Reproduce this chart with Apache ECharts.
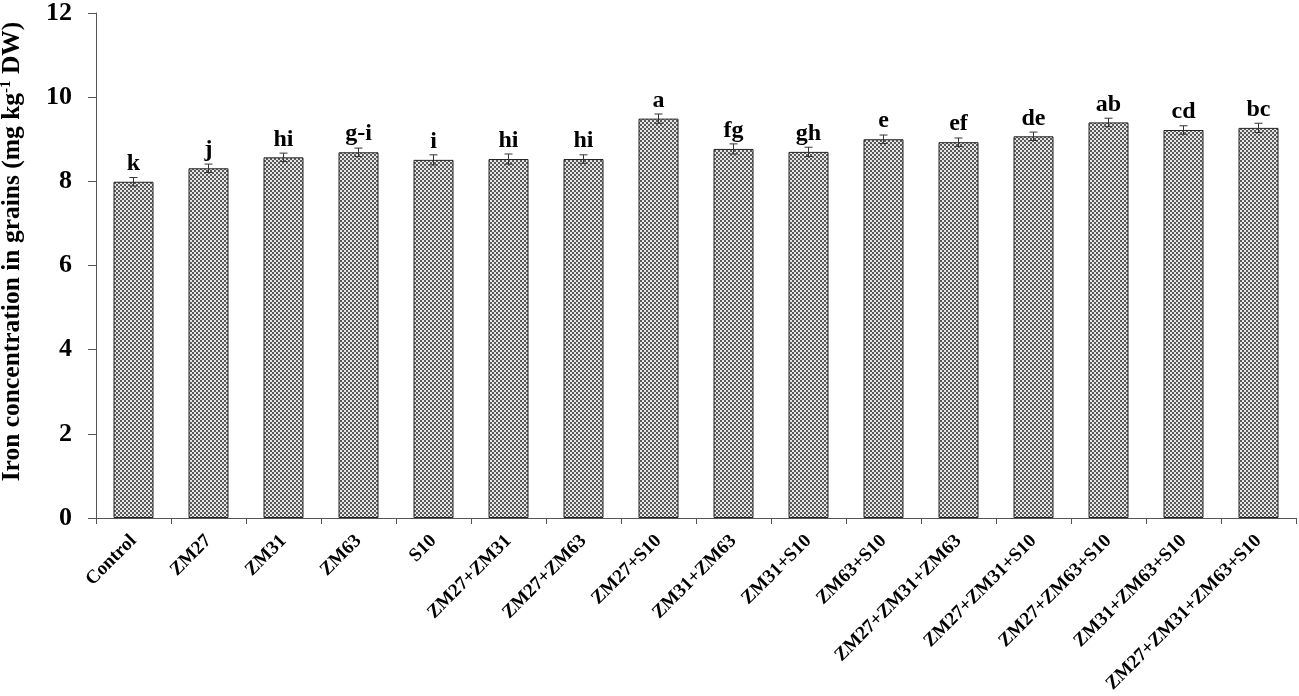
<!DOCTYPE html>
<html>
<head>
<meta charset="utf-8">
<script src="https://cdn.jsdelivr.net/npm/echarts@6/dist/echarts.min.js"></script>
<style>
html,body{margin:0;padding:0;background:#fff;}
#chart{width:1299px;height:696px;}
</style>
</head>
<body>
<div id="chart"></div>
<script>
const categories = ['Control','ZM27','ZM31','ZM63','S10','ZM27+ZM31','ZM27+ZM63','ZM27+S10','ZM31+ZM63','ZM31+S10','ZM63+S10','ZM27+ZM31+ZM63','ZM27+ZM31+S10','ZM27+ZM63+S10','ZM31+ZM63+S10','ZM27+ZM31+ZM63+S10'];
const ironValues = [7.99, 8.31, 8.57, 8.69, 8.51, 8.53, 8.53, 9.49, 8.77, 8.70, 9.00, 8.93, 9.07, 9.40, 9.22, 9.27];
const ironErrors = [0.10, 0.10, 0.10, 0.10, 0.12, 0.12, 0.10, 0.11, 0.12, 0.11, 0.10, 0.10, 0.10, 0.10, 0.10, 0.11];
const letters = ['k','j','hi','g-i','i','hi','hi','a','fg','gh','e','ef','de','ab','cd','bc'];
const yTicks = [0, 2, 4, 6, 8, 10, 12];

const FONT = '"Liberation Serif", "Times New Roman", serif';

// checker pattern
const pc = document.createElement('canvas');
pc.width = 4; pc.height = 4;
const pctx = pc.getContext('2d');
pctx.fillStyle = '#e6e6e6'; pctx.fillRect(0,0,4,4);
pctx.fillStyle = '#5a5a5a';
pctx.fillRect(0,0,2,2); pctx.fillRect(2,2,2,2);

const chart = echarts.init(document.getElementById('chart'), null, {renderer:'canvas'});
chart.setOption({
  animation: false,
  backgroundColor: '#fff',
  grid: {left: 96, right: 3, top: 13, bottom: 178, containLabel: false, outerBoundsMode: 'none'},
  xAxis: {
    type: 'category',
    data: categories,
    axisLine: {lineStyle: {color: '#555', width: 1}},
    axisTick: {show: true, length: 6, lineStyle: {color: '#555'}},
    axisLabel: {
      rotate: 45, interval: 0, margin: 20,
      fontFamily: FONT, fontWeight: 'bold', fontSize: 19, color: '#000'
    }
  },
  yAxis: {
    type: 'value',
    min: yTicks[0], max: yTicks[yTicks.length-1], interval: 2,
    splitLine: {show: false},
    axisLine: {show: true, lineStyle: {color: '#555', width: 1}},
    axisTick: {show: true, length: 8, lineStyle: {color: '#555'}},
    axisLabel: {fontFamily: FONT, fontWeight: 'bold', fontSize: 26, color: '#000', margin: 24},
    name: 'Iron concentration in grains (mg kg{sup|-1} DW)',
    nameLocation: 'middle',
    nameGap: 71,
    nameTextStyle: {
      fontFamily: FONT, fontWeight: 'bold', fontSize: 25.5, color: '#000',
      padding: [0, 0, 0, 28],
      rich: {
        sup: {fontFamily: FONT, fontWeight: 'bold', fontSize: 15, color: '#000', verticalAlign: 'top', lineHeight: 25}
      }
    }
  },
  series: [
    {
      type: 'bar',
      data: ironValues,
      barWidth: 40,
      itemStyle: {color: {image: pc, repeat: 'repeat'}, borderColor: '#222', borderWidth: 1},
      label: {
        show: true, position: 'top', distance: 6,
        formatter: p => letters[p.dataIndex],
        fontFamily: FONT, fontWeight: 'bold', fontSize: 24, color: '#000'
      }
    },
    {
      type: 'custom',
      data: ironValues.map((v, i) => [i, v, ironErrors[i]]),
      z: 5,
      renderItem: function(params, api) {
        const x = api.value(0), v = api.value(1), e = api.value(2);
        const top = api.coord([x, v + e]);
        const bot = api.coord([x, v - e]);
        const hw = 4;
        const style = {stroke: '#333', lineWidth: 1};
        return {
          type: 'group',
          children: [
            {type: 'line', shape: {x1: top[0], y1: top[1], x2: bot[0], y2: bot[1]}, style: style},
            {type: 'line', shape: {x1: top[0]-hw, y1: top[1], x2: top[0]+hw, y2: top[1]}, style: style},
            {type: 'line', shape: {x1: bot[0]-hw, y1: bot[1], x2: bot[0]+hw, y2: bot[1]}, style: style}
          ]
        };
      }
    }
  ]
});
</script>
</body>
</html>
